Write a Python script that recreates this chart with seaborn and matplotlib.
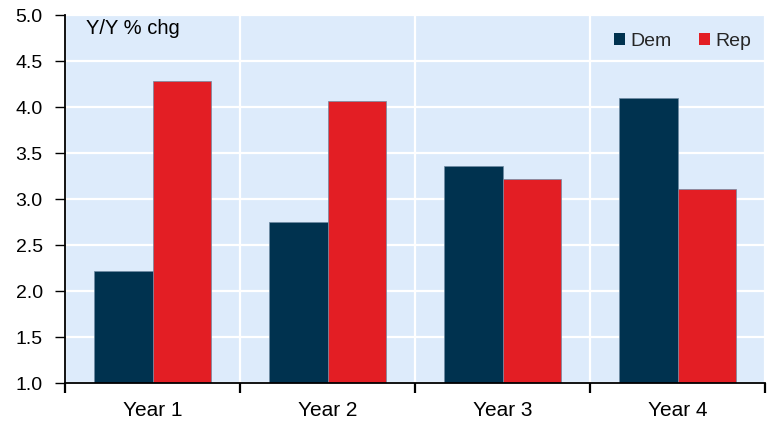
import matplotlib
matplotlib.use("Agg")
import matplotlib.pyplot as plt
import seaborn as sns
import pandas as pd
import numpy as np

years = ["Year 1", "Year 2", "Year 3", "Year 4"]
dem = [2.22, 2.75, 3.36, 4.10]
rep = [4.28, 4.06, 3.22, 3.11]
parties = ["Dem", "Rep"]
colors = {"Dem": "#00324F", "Rep": "#E31E24"}

df = pd.DataFrame({
    "year": years * 2,
    "party": ["Dem"] * len(years) + ["Rep"] * len(years),
    "value": dem + rep,
})

sns.set_style("white")
plt.rcParams["font.family"] = ["Liberation Sans", "DejaVu Sans"]

fig = plt.figure(figsize=(7.69, 4.21), dpi=100)
ax = fig.add_axes([65 / 769, 38 / 421, 700 / 769, 368 / 421])
ax.set_facecolor("#DDEBFB")

sns.barplot(data=df, x="year", y="value", hue="party", hue_order=parties,
            palette=colors, width=0.67, ax=ax, saturation=1,
            edgecolor="#6F8BA3", linewidth=0.5)

ax.set_ylim(1.0, 5.0)
ax.set_xlim(-0.5, len(years) - 0.5)
yt = np.arange(1.0, 5.01, 0.5)
ax.set_yticks(yt)
ax.set_yticklabels([f"{v:.1f}" for v in yt])
ax.set_xticks(range(len(years)))
ax.set_xticklabels(years)
ax.set_xticks(np.arange(-0.5, len(years), 1.0), minor=True)

ax.grid(axis="y", which="major", color="white", linewidth=1.6)
ax.grid(axis="x", which="minor", color="white", linewidth=1.6)
ax.grid(axis="x", which="major", visible=False)
ax.set_axisbelow(True)

ax.tick_params(axis="x", which="major", length=0, labelsize=15, pad=13, colors="black")
ax.tick_params(axis="x", which="minor", length=7, width=1.6, direction="out", color="black", bottom=True)
ax.tick_params(axis="y", length=7, width=1.0, direction="out", labelsize=14, pad=9, colors="black", left=True)

for side in ["top", "right"]:
    ax.spines[side].set_visible(False)
for side in ["left", "bottom"]:
    ax.spines[side].set_color("black")
    ax.spines[side].set_linewidth(1.3)

ax.set_xlabel("")
ax.set_ylabel("")

ax.text(0.03, 0.99, "Y/Y % chg", transform=ax.transAxes, fontsize=14.5,
        va="top", ha="left", color="black")

leg = ax.legend(loc="upper right", bbox_to_anchor=(1.005, 1.0), ncol=2,
                frameon=False, fontsize=14, handlelength=0.6, handleheight=0.6,
                handletextpad=0.25, columnspacing=1.4)
for h in leg.legend_handles:
    h.set_edgecolor("none")

fig.savefig("out.png", dpi=100)
